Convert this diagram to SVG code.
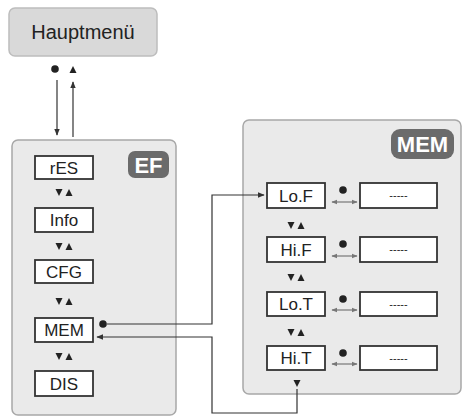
<svg xmlns="http://www.w3.org/2000/svg" width="465" height="418" viewBox="0 0 465 418">
<defs>
<style>
.panel{fill:#eaeaea;stroke:#a8a8a8;stroke-width:1.5}
.box{fill:#fff;stroke:#333;stroke-width:1.8}
.lbl{font-family:"Liberation Sans",Arial,sans-serif;font-size:17px;fill:#222;text-anchor:middle}
.val{font-family:"Liberation Sans",Arial,sans-serif;font-size:11px;fill:#222;text-anchor:middle}
.badge{fill:#6b6b6b}
.btxt{font-family:"Liberation Sans",Arial,sans-serif;font-size:22px;font-weight:bold;fill:#fff;text-anchor:middle}
.ln{fill:none;stroke:#333;stroke-width:1.2}
.dbl{fill:none;stroke:#777;stroke-width:1.2}
.tri{fill:#222}
</style>
<marker id="ah" viewBox="0 0 10 10" refX="9" refY="5" markerWidth="7" markerHeight="7" orient="auto-start-reverse" markerUnits="userSpaceOnUse">
<path d="M0,1 L10,5 L0,9 Z" fill="#333"/>
</marker>
<marker id="ahg" viewBox="0 0 10 10" refX="9" refY="5" markerWidth="6" markerHeight="6" orient="auto-start-reverse" markerUnits="userSpaceOnUse">
<path d="M0,1 L10,5 L0,9 Z" fill="#777"/>
</marker>
</defs>
<rect width="465" height="418" fill="#fff"/>

<g id="hauptmenu">
<rect x="9" y="8" width="148" height="48" rx="6" fill="#d9d9d9" stroke="#bdbdbd" stroke-width="1.5"/>
<text class="lbl" x="83" y="39" style="font-size:20px">Hauptmenü</text>
<circle cx="55" cy="69" r="3.8" fill="#222"/>
<polygon class="tri" points="69.5,73 76.5,73 73,66"/>
</g>

<g id="ef">
<rect class="panel" x="12" y="140" width="164" height="275" rx="6"/>
<rect class="badge" x="128" y="151" width="41" height="27" rx="7"/>
<text class="btxt" x="148.5" y="172.5">EF</text>
<g id="ef-res"><rect class="box" x="35" y="156" width="58" height="23"/><text class="lbl" x="64" y="174">rES</text></g>
<g id="ef-info"><rect class="box" x="35" y="208" width="58" height="24"/><text class="lbl" x="64" y="226">Info</text></g>
<g id="ef-cfg"><rect class="box" x="35" y="260" width="58" height="23"/><text class="lbl" x="64" y="278">CFG</text></g>
<g id="ef-mem"><rect class="box" x="35" y="318" width="58" height="24"/><text class="lbl" x="64" y="336">MEM</text></g>
<g id="ef-dis"><rect class="box" x="35" y="371" width="58" height="25"/><text class="lbl" x="64" y="390">DIS</text></g>
<g class="tri">
<polygon points="55.5,189 62.5,189 59,196"/><polygon points="65.5,196 72.5,196 69,189"/>
<polygon points="55.5,243 62.5,243 59,250"/><polygon points="65.5,250 72.5,250 69,243"/>
<polygon points="55.5,298 62.5,298 59,305"/><polygon points="65.5,305 72.5,305 69,298"/>
<polygon points="55.5,353 62.5,353 59,360"/><polygon points="65.5,360 72.5,360 69,353"/>
</g>
<circle cx="103" cy="324" r="3.8" fill="#222"/>
</g>

<g id="mem">
<rect class="panel" x="243" y="120" width="218" height="274" rx="6"/>
<rect class="badge" x="391" y="129" width="63" height="30" rx="9"/>
<text class="btxt" x="422.5" y="152">MEM</text>
<g id="mem-lof"><rect class="box" x="267" y="183" width="58" height="25"/><text class="lbl" x="296" y="202">Lo.F</text>
<rect class="box" x="360" y="183" width="77" height="25"/><text class="val" x="398.5" y="199">-----</text>
<circle cx="343" cy="190" r="3.8" fill="#222"/><line class="dbl" x1="332" y1="202" x2="357" y2="202" marker-start="url(#ahg)" marker-end="url(#ahg)"/></g>
<g id="mem-hif"><rect class="box" x="267" y="237" width="58" height="25"/><text class="lbl" x="296" y="256">Hi.F</text>
<rect class="box" x="360" y="237" width="77" height="25"/><text class="val" x="398.5" y="253">-----</text>
<circle cx="343" cy="244" r="3.8" fill="#222"/><line class="dbl" x1="332" y1="256" x2="357" y2="256" marker-start="url(#ahg)" marker-end="url(#ahg)"/></g>
<g id="mem-lot"><rect class="box" x="267" y="292" width="58" height="24"/><text class="lbl" x="296" y="310">Lo.T</text>
<rect class="box" x="360" y="292" width="77" height="24"/><text class="val" x="398.5" y="308">-----</text>
<circle cx="343" cy="299" r="3.8" fill="#222"/><line class="dbl" x1="332" y1="310" x2="357" y2="310" marker-start="url(#ahg)" marker-end="url(#ahg)"/></g>
<g id="mem-hit"><rect class="box" x="267" y="346" width="58" height="24"/><text class="lbl" x="296" y="364">Hi.T</text>
<rect class="box" x="360" y="346" width="77" height="24"/><text class="val" x="398.5" y="362">-----</text>
<circle cx="343" cy="353" r="3.8" fill="#222"/><line class="dbl" x1="332" y1="364" x2="357" y2="364" marker-start="url(#ahg)" marker-end="url(#ahg)"/></g>
<g class="tri">
<polygon points="287.5,222 294.5,222 291,229"/><polygon points="297.5,229 304.5,229 301,222"/>
<polygon points="287.5,274 294.5,274 291,281"/><polygon points="297.5,281 304.5,281 301,274"/>
<polygon points="287.5,329 294.5,329 291,336"/><polygon points="297.5,336 304.5,336 301,329"/>
<polygon points="293.5,380 300.5,380 297,387"/>
</g>
</g>

<g id="connectors">
<line class="ln" x1="57" y1="80" x2="57" y2="135" marker-end="url(#ah)"/>
<line class="ln" x1="73" y1="137" x2="73" y2="82" marker-end="url(#ah)"/>
<polyline class="ln" points="107,324 212,324 212,195 264,195" marker-end="url(#ah)"/>
<polyline class="ln" points="297,389 297,413 212,413 212,337 97,337" marker-end="url(#ah)"/>
</g>
</svg>
